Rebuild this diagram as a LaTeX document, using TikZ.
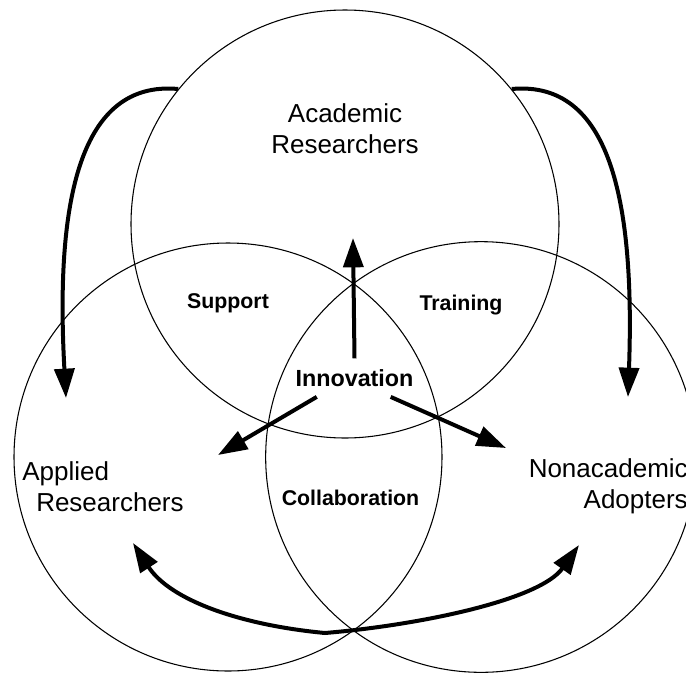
\documentclass[tikz,border=0pt]{standalone}
\usepackage{fontspec}
\setmainfont{Liberation Sans}
\usetikzlibrary{arrows.meta,positioning,calc}

\begin{document}
\begin{tikzpicture}[x=0.75pt,y=-0.75pt,
    ring/.style={circle,draw,line width=0.8pt,minimum size=321pt,inner sep=0pt},
    group/.style={font=\fontsize{19.5}{23}\selectfont,inner sep=0pt},
    link/.style={font=\fontsize{16}{19}\selectfont\bfseries,inner sep=0pt,anchor=base},
    flow/.style={line width=3pt,-{Triangle[length=22pt,width=15pt]}}]
  \useasboundingbox (0,0) rectangle (686,672);
  % the three communities
  \node[ring] (acad) at (345,224) {};
  \node[ring] (appl) at (228,457) {};
  \node[ring,minimum size=323pt] (nona) at (481,457) {};
  \node[group,align=center] (acadtxt) at (345,128.7) {Academic\\Researchers};
  \node[group,align=left,anchor=west] (appltxt) at (22,486.4)
    {Applied\\\hspace*{10.5pt}Researchers};
  \node[group,align=right,anchor=east] (nonatxt) at (688,486.4)
    {Nonacademic\\Adopters};
  % overlaps
  \node[link] (support) at (228,308) {Support};
  \node[link] (training) at (461,310) {Training};
  \node[link] (collab) at (350.5,505) {Collaboration};
  \node[link,font=\fontsize{17.5}{21}\selectfont\bfseries,inner sep=7.8pt] (innov)
    at (354.5,386) {Innovation};
  % arrow ends
  \coordinate (uptip) at (353,238);
  \coordinate (lefttip) at (218,455);
  \coordinate (righttip) at (506,448);
  \coordinate (appltip) at (66,398);
  \coordinate (nonatip) at (628,397);
  \coordinate (lowtip) at (133,543);
  \coordinate (hightip) at (579,545);
  \coordinate (join) at (325,633);
  \draw[flow] (innov.north) -- (uptip);
  \draw[flow] (innov.207) -- (lefttip);
  \draw[flow] (innov.-28) -- (righttip);
  \draw[flow] (acad.141) .. controls (80,80) and (55,200) .. (appltip);
  \draw[flow] (acad.39) .. controls (610,80) and (635,200) .. (nonatip);
  \draw[flow,{Triangle[length=22pt,width=15pt]}-{Triangle[length=22pt,width=15pt]}]
    (lowtip) .. controls (170,600) and (240,625) .. (join)
    .. controls (420,625) and (540,600) .. (hightip);
\end{tikzpicture}
\end{document}
